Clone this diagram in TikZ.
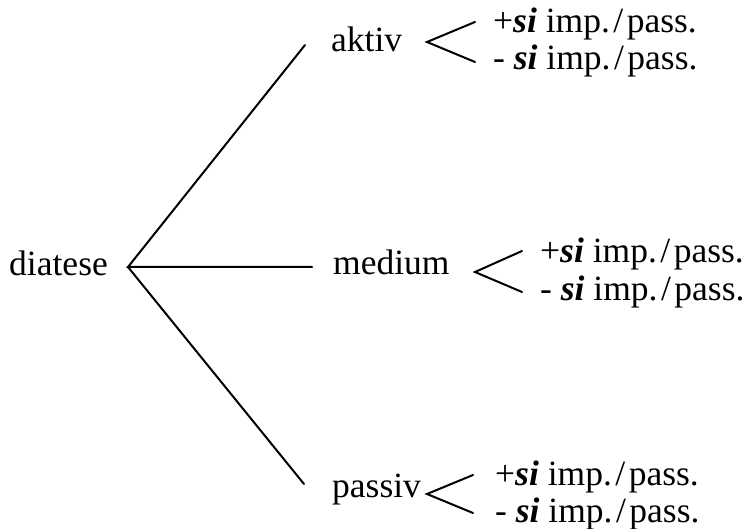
\documentclass[tikz,border=0pt]{standalone}
\usepackage{fontspec}
\setmainfont{Liberation Serif}
\begin{document}
\begin{tikzpicture}[x=1pt,y=-1pt,
  word/.style={inner sep=0pt,anchor=base west,font=\fontsize{35.5}{40}\selectfont},
  branch/.style={line width=2pt,line cap=round}]
\useasboundingbox (0,0) rectangle (752,529);
\newcommand{\si}{\textbf{\textit{si}}}
\newcommand{\imppass}{imp.\kern3.5pt/\kern3.5pt pass.}

% root and its three branches
\node[word,anchor=base east] (dia) at (108,276) {diatese};
\coordinate (hub) at (128,267);
\coordinate (aEnd) at (305,45);
\coordinate (mEnd) at (312,267);
\coordinate (pEnd) at (304,484);
\draw[branch] (aEnd) -- (hub) -- (mEnd);
\draw[branch] (hub) -- (pEnd);

% voice labels
\node[word] (akt) at (331,52) {aktiv};
\node[word] (med) at (333,275) {medium};
\node[word] (pas) at (332,497) {passiv};

% forks
\coordinate (aV) at (427,42);  \coordinate (aT) at (475,22);  \coordinate (aB) at (475,62);
\coordinate (mV) at (475,272); \coordinate (mT) at (522,251); \coordinate (mB) at (522,292);
\coordinate (pV) at (427,494); \coordinate (pT) at (473,475); \coordinate (pB) at (473,513);
\draw[branch] (aT) -- (aV) -- (aB);
\draw[branch] (mT) -- (mV) -- (mB);
\draw[branch] (pT) -- (pV) -- (pB);

% sub-labels
\node[word] (a1) at (493,33) {+\si{} \imppass};
\node[word] (a2) at (493,70) {- \si{} \imppass};
\node[word] (m1) at (540,263) {+\si{} \imppass};
\node[word] (m2) at (540,300) {- \si{} \imppass};
\node[word] (p1) at (495,485) {+\si{} \imppass};
\node[word] (p2) at (495,522) {- \si{} \imppass};
\end{tikzpicture}
\end{document}
